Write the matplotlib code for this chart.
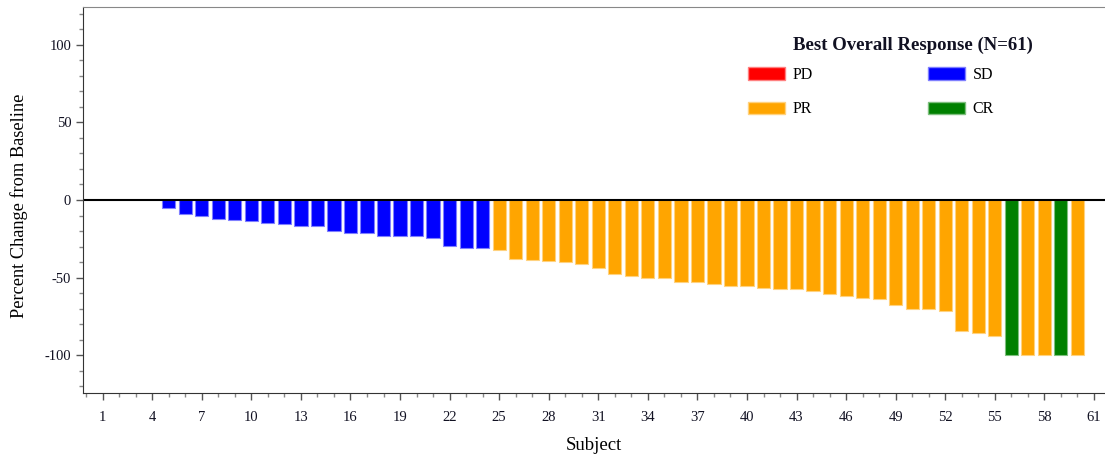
import matplotlib

matplotlib.use("Agg")
import matplotlib.pyplot as plt
from matplotlib.patches import Patch
from matplotlib.ticker import MultipleLocator

plt.rcParams["font.family"] = ["Liberation Serif", "DejaVu Serif"]
plt.rcParams["axes.unicode_minus"] = False

# waterfall data: subjects 1-4 and 61 have no bar in the reference
subjects = list(range(5, 61))
pct_change = [
    -5, -9, -10.5, -12, -13, -13.5, -15, -15.5, -17, -17,
    -20, -21, -21.5, -23, -23.5, -23.5, -24.5, -29.5, -31, -31,
    -32.5, -38, -39, -39.5, -40, -41, -44, -48, -49, -50,
    -50.5, -53, -53, -54.5, -55.5, -55.5, -57, -57.5, -57.5, -58.5,
    -60.5, -62, -63, -64, -68, -70, -70, -71.5, -84.5, -86,
    -87.5, -100, -100, -100, -100, -100,
]
response = ["SD"] * 20 + ["PR"] * 31 + ["CR", "PR", "PR", "CR", "PR"]

categories = ["PD", "PR", "SD", "CR"]
colors = {"PD": "#ff0000", "PR": "#ffa500", "SD": "#0000ff", "CR": "#008000"}
edges = {"PD": "#ff8080", "PR": "#ffd27f", "SD": "#7f7fff", "CR": "#7fbf7f"}
xtick_labels = list(range(1, 62, 3))

W, H = 1105, 457
fig = plt.figure(figsize=(W / 100, H / 100), dpi=100)
ax = fig.add_axes([83 / W, (H - 393) / H, (W - 83) / W, (393 - 7) / H])

ax.bar(
    subjects,
    pct_change,
    width=0.8,
    color=[colors[r] for r in response],
    edgecolor=[edges[r] for r in response],
    linewidth=0.8,
)
ax.axhline(0, color="black", linewidth=1.5)

ax.set_xlim(-0.19, 61.67)
ax.set_ylim(-124.5, 124.5)
ax.set_xticks(xtick_labels)
ax.xaxis.set_minor_locator(MultipleLocator(1))
ax.set_yticks([-100, -50, 0, 50, 100])
ax.yaxis.set_minor_locator(MultipleLocator(10))
ax.tick_params(axis="both", which="major", length=5, width=1, color="#555555",
               labelsize=10.5, labelcolor="#111122")
ax.tick_params(axis="both", which="minor", length=3, width=1, color="#888888")
ax.tick_params(axis="x", which="both", pad=8)

ax.spines["right"].set_visible(False)
for side in ("left", "top", "bottom"):
    ax.spines[side].set_color("#333333")
ax.spines["top"].set_color("#888888")

ax.set_xlabel("Subject", fontsize=13.5, labelpad=9)
ax.set_ylabel("Percent Change from Baseline", fontsize=13.2)
ax.yaxis.set_label_coords(-0.054, 0.485)

handles = [Patch(facecolor=colors[c], edgecolor=edges[c], label=c) for c in categories]
leg = ax.legend(
    handles=handles,
    ncol=2,
    fontsize=11.5,
    frameon=False,
    handlelength=2.3,
    handleheight=0.8,
    handletextpad=0.5,
    labelspacing=1.15,
    columnspacing=7.2,
    loc="upper left",
    borderaxespad=0,
    borderpad=0,
    bbox_to_anchor=((748 - 83) / (W - 83), 1 - (67 - 7) / (393 - 7)),
)
ax.text((913 - 83) / (W - 83), 1 - (45 - 7) / (393 - 7), "Best Overall Response (N=61)",
        transform=ax.transAxes, ha="center", va="center",
        fontsize=13.5, fontweight="bold", color="#111122")

fig.savefig("out.png", dpi=100)
